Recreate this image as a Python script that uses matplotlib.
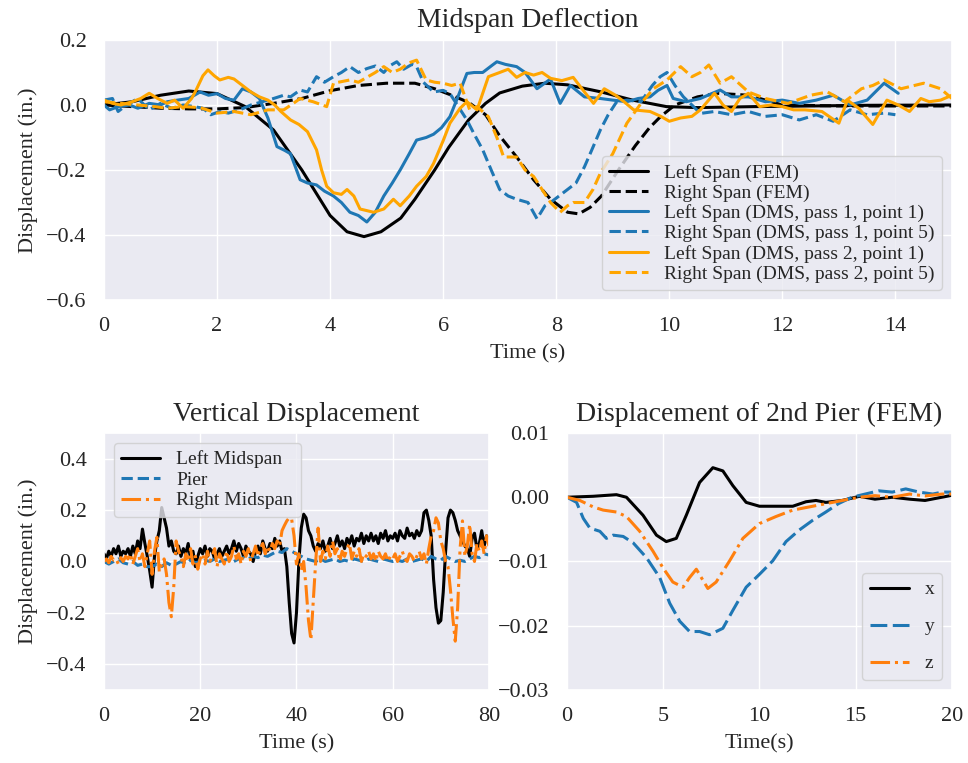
import matplotlib
matplotlib.use('Agg')
import matplotlib.pyplot as plt
import numpy as np
import seaborn as sns

sns.set_theme(style='darkgrid')
plt.rcParams['font.family'] = ['Liberation Serif', 'DejaVu Serif']
plt.rcParams.update({
    'axes.titlesize': 20,
    'axes.labelsize': 16,
    'xtick.labelsize': 16,
    'ytick.labelsize': 16,
    'legend.fontsize': 14,
    'xtick.major.pad': 6.5,
    'ytick.major.pad': 6.5,
    'axes.titlepad': 9,
    'axes.labelpad': 6,
})

# --- Midspan Deflection ---
t_fem_left = [0, 0.5, 1.0, 1.5, 2.0, 2.5, 3.0, 3.5, 4.0, 4.3, 4.6, 4.9, 5.25, 5.5, 5.85, 6.1,
              6.45, 6.75, 7.0, 7.4, 7.8, 8.2, 8.8, 9.35, 9.95, 10.5, 11.5, 12.5, 13.5, 15.0]
fem_left = [0.0, 0.01, 0.03, 0.043, 0.035, -0.005, -0.077, -0.2, -0.34, -0.39, -0.405, -0.39, -0.348,
            -0.29, -0.2, -0.13, -0.046, 0.005, 0.037, 0.058, 0.067, 0.062, 0.04, 0.015, -0.005,
            -0.008, -0.005, -0.003, -0.001, 0.0]

t_fem_right = [0, 0.5, 1.0, 1.5, 2.0, 2.5, 3.0, 3.5, 4.0, 4.5, 5.0, 5.5, 5.85, 6.15, 6.45, 6.75,
               7.0, 7.3, 7.6, 7.9, 8.2, 8.4, 8.6, 8.8, 9.1, 9.4, 9.65, 9.85, 10.1, 10.5, 10.85,
               11.4, 12.0, 13.0, 15.0]
fem_right = [0.0, -0.005, -0.01, -0.012, -0.012, -0.008, 0.005, 0.02, 0.044, 0.06, 0.067, 0.067,
             0.05, 0.03, 0.008, -0.03, -0.095, -0.16, -0.23, -0.29, -0.33, -0.335, -0.315, -0.28,
             -0.2, -0.125, -0.07, -0.035, 0.0, 0.025, 0.036, 0.03, 0.0, -0.003, -0.003]

t_dms1_left = [0, 0.1, 0.25, 0.45, 0.6, 0.8, 1.0, 1.12, 1.3, 1.5, 1.7, 1.85, 2.0, 2.15, 2.3, 2.45,
               2.6, 2.75, 2.9, 3.06, 3.2, 3.3, 3.47, 3.6, 3.76, 3.9, 4.06, 4.2, 4.35, 4.5, 4.65,
               4.8, 4.95, 5.1, 5.24, 5.4, 5.53, 5.7, 5.83, 5.97, 6.12, 6.25, 6.42, 6.55, 6.7,
               6.85, 6.95, 7.1, 7.3, 7.45, 7.66, 7.9, 8.07, 8.25, 8.5, 8.78, 9.0, 9.25, 9.45,
               9.66, 9.8, 9.96, 10.07, 10.3, 10.55, 10.75, 10.9, 11.1, 11.4, 11.7, 12.0, 12.3,
               12.6, 12.9, 13.2, 13.5, 13.8, 14.05]
dms1_left = [0.0, -0.015, -0.005, 0.0, -0.01, 0.005, 0.0, 0.01, 0.015, 0.02, 0.04, 0.03, 0.035,
             0.02, 0.015, 0.05, 0.04, 0.02, -0.04, -0.128, -0.14, -0.15, -0.23, -0.24, -0.246,
             -0.265, -0.28, -0.3, -0.33, -0.34, -0.36, -0.33, -0.28, -0.24, -0.2, -0.15, -0.108,
             -0.1, -0.09, -0.07, -0.036, 0.02, 0.097, 0.1, 0.1, 0.12, 0.133, 0.125, 0.118, 0.1,
             0.05, 0.08, 0.005, 0.06, 0.025, 0.02, 0.015, 0.01, 0.02, 0.025, 0.045, 0.06, 0.02,
             0.01, 0.02, 0.035, 0.046, 0.025, 0.025, 0.01, 0.015, 0.005, 0.015, 0.03, 0.0,
             0.015, 0.067, 0.036]

t_dms1_right = [0, 0.15, 0.25, 0.4, 0.6, 0.8, 1.0, 1.2, 1.4, 1.6, 1.75, 1.89, 2.05, 2.2, 2.4, 2.6,
                2.8, 3.0, 3.18, 3.3, 3.47, 3.6, 3.76, 3.9, 4.06, 4.2, 4.35, 4.5, 4.65, 4.8, 4.95,
                5.05, 5.18, 5.3, 5.45, 5.53, 5.65, 5.83, 6.0, 6.12, 6.25, 6.42, 6.55, 6.7, 6.85,
                7.0, 7.15, 7.3, 7.5, 7.66, 7.8, 7.9, 8.05, 8.2, 8.35, 8.5, 8.65, 8.78, 8.92, 9.07,
                9.25, 9.5, 9.7, 9.84, 9.96, 10.1, 10.25, 10.4, 10.55, 10.8, 11.1, 11.4, 11.7,
                12.0, 12.3, 12.6, 12.9, 13.2, 13.5, 13.8, 14.0]
dms1_right = [0.015, 0.02, -0.02, 0.0, 0.02, -0.015, 0.005, -0.01, 0.0, -0.005, -0.01, -0.03,
              -0.02, -0.025, -0.015, 0.0, 0.01, 0.02, 0.03, 0.025, 0.046, 0.04, 0.087, 0.07,
              0.087, 0.1, 0.118, 0.1, 0.112, 0.12, 0.1, 0.12, 0.133, 0.11, 0.125, 0.118, 0.07,
              0.04, 0.045, 0.035, 0.0, -0.046, -0.09, -0.138, -0.2, -0.26, -0.28, -0.29, -0.3,
              -0.35, -0.31, -0.3, -0.28, -0.26, -0.24, -0.19, -0.13, -0.077, -0.03, 0.01, 0.015,
              0.01, 0.06, 0.087, 0.1, 0.06, 0.025, 0.0, -0.026, -0.02, -0.03, -0.02, -0.035,
              -0.03, -0.046, -0.03, -0.05, -0.015, -0.03, -0.025, -0.03]

t_dms2_left = [0, 0.15, 0.3, 0.5, 0.65, 0.8, 0.95, 1.12, 1.25, 1.4, 1.55, 1.63, 1.75, 1.84, 1.95,
               2.05, 2.2, 2.3, 2.45, 2.6, 2.75, 2.9, 3.02, 3.13, 3.3, 3.45, 3.6, 3.76, 3.85, 3.94,
               4.06, 4.2, 4.3, 4.42, 4.53, 4.65, 4.77, 4.95, 5.12, 5.24, 5.4, 5.53, 5.7, 5.83,
               6.0, 6.12, 6.3, 6.42, 6.6, 6.8, 7.0, 7.15, 7.3, 7.45, 7.6, 7.75, 7.9, 8.1, 8.3,
               8.5, 8.66, 8.85, 9.05, 9.2, 9.37, 9.66, 9.85, 10.0, 10.2, 10.4, 10.55, 10.8,
               10.95, 11.1, 11.25, 11.4, 11.6, 11.8, 12.0, 12.2, 12.4, 12.7, 13.0, 13.15, 13.35,
               13.6, 13.85, 14.05, 14.25, 14.45, 14.6, 14.8, 15.0]
dms2_left = [0.015, 0.005, 0.0, 0.01, 0.02, 0.036, 0.02, 0.005, 0.015, -0.01, 0.02, 0.046, 0.09,
             0.108, 0.09, 0.077, 0.085, 0.08, 0.06, 0.04, 0.025, 0.015, 0.0, -0.02, -0.046,
             -0.06, -0.082, -0.138, -0.2, -0.25, -0.27, -0.275, -0.26, -0.28, -0.32, -0.325,
             -0.33, -0.32, -0.29, -0.31, -0.28, -0.25, -0.22, -0.18, -0.11, -0.056, -0.01, 0.01,
             -0.015, 0.087, 0.1, 0.11, 0.085, 0.1, 0.092, 0.1, 0.082, 0.075, 0.085, 0.04, 0.005,
             0.05, 0.03, 0.01, -0.015, -0.02, -0.035, -0.05, -0.04, -0.035, -0.015, 0.036, 0.0,
             -0.02, 0.02, 0.036, -0.005, 0.0, -0.005, -0.015, -0.015, -0.02, -0.056, 0.015,
             -0.01, -0.06, 0.015, 0.0, -0.02, 0.02, 0.01, 0.015, 0.03]

t_dms2_right = [0, 0.3, 0.6, 0.9, 1.12, 1.4, 1.7, 2.0, 2.3, 2.6, 2.9, 3.18, 3.35, 3.47, 3.7, 3.94,
                4.06, 4.35, 4.5, 4.65, 4.8, 4.95, 5.1, 5.24, 5.4, 5.53, 5.7, 5.85, 6.0, 6.15, 6.3,
                6.47, 6.6, 6.8, 6.95, 7.07, 7.3, 7.45, 7.6, 7.75, 7.9, 8.07, 8.2, 8.3, 8.5, 8.65,
                8.78, 9.0, 9.25, 9.5, 9.72, 9.96, 10.2, 10.4, 10.55, 10.7, 10.9, 11.1, 11.4, 11.7,
                12.1, 12.5, 12.8, 13.1, 13.4, 13.6, 13.8, 14.1, 14.5, 14.8, 15.0]
dms2_right = [0.01, 0.005, 0.0, -0.005, -0.01, -0.005, -0.008, -0.025, -0.02, -0.03, -0.015,
              -0.015, 0.005, 0.02, 0.01, -0.005, 0.067, 0.077, 0.07, 0.085, 0.1, 0.118, 0.1,
              0.11, 0.13, 0.138, 0.077, 0.07, 0.067, 0.06, 0.067, -0.015, -0.005, -0.036, -0.1,
              -0.16, -0.16, -0.2, -0.22, -0.26, -0.3, -0.33, -0.31, -0.3, -0.3, -0.26, -0.21,
              -0.15, -0.056, 0.005, 0.05, 0.077, 0.118, 0.087, 0.1, 0.123, 0.067, 0.087, 0.04,
              0.02, 0.005, 0.03, 0.04, 0.01, 0.05, 0.06, 0.077, 0.05, 0.067, 0.05, 0.02]

# --- Vertical Displacement (0.5 s samples, pier 1 s samples) ---
left_midspan = [
    0.03, 0.01, 0.04, 0.02, 0.05, 0.03, 0.06, 0.02, 0.04, 0.03, 0.05,
    0.02, 0.06, 0.03, 0.08, 0.05, 0.126, 0.07, 0.02, -0.035, -0.1,
    0.02, 0.08, 0.12, 0.21, 0.17, 0.13, 0.06, 0.08, 0.04, 0.03,
    0.06, 0.02, 0.05, 0.03, 0.07, 0.01, 0.04, -0.02, 0.02, 0.05,
    0.03, 0.06, 0.02, 0.05, 0.04, 0.01, 0.03, 0.05, 0.02, 0.04,
    0.06, 0.03, 0.05, 0.08, 0.04, 0.07, 0.05, 0.02, 0.06, 0.04,
    0.03, 0.0, 0.04, 0.06, 0.03, 0.08, 0.05, 0.04, 0.07, 0.05,
    0.09, 0.06, 0.08, 0.04, 0.05, -0.02, -0.16, -0.28, -0.317, -0.2,
    0.0, 0.13, 0.184, 0.17, 0.12, 0.1, 0.06, 0.04, 0.07, 0.05,
    0.08, 0.04, 0.06, 0.09, 0.05, 0.07, 0.1, 0.06, 0.08, 0.05,
    0.09, 0.07, 0.1, 0.06, 0.09, 0.08, 0.11, 0.07, 0.1, 0.08,
    0.11, 0.08, 0.1, 0.07, 0.11, 0.09, 0.12, 0.08, 0.1, 0.09,
    0.11, 0.08, 0.12, 0.1, 0.09, 0.13, 0.1, 0.11, 0.09, 0.12,
    0.1, 0.12, 0.19, 0.2, 0.16, 0.1, -0.07, -0.18, -0.24, -0.23,
    -0.12, 0.04, 0.17, 0.2, 0.19, 0.16, 0.12, 0.1, 0.08, 0.06,
    0.05, 0.02, 0.09, 0.11, 0.05, 0.07, 0.12, 0.06, 0.1, 0.09,
]
right_midspan = [
    0.0, 0.01, -0.005, 0.02, 0.005, 0.01, -0.01, 0.015, 0.0, 0.02, 0.01,
    0.03, -0.01, 0.02, 0.05, 0.0, 0.03, -0.02, 0.03, 0.08, -0.05,
    0.04, 0.094, -0.04, -0.01, 0.01, -0.05, -0.16, -0.215, -0.1, 0.08,
    0.04, 0.02, -0.02, 0.03, 0.0, 0.05, -0.01, 0.02, -0.03, 0.01,
    0.03, -0.01, 0.04, 0.0, 0.02, 0.05, -0.02, 0.03, 0.01, -0.01,
    0.04, 0.0, 0.02, 0.06, 0.01, 0.03, -0.01, 0.04, 0.02, 0.05,
    0.0, 0.03, 0.06, 0.02, 0.05, 0.07, 0.03, 0.06, 0.04, 0.07,
    0.05, 0.08, 0.06, 0.12, 0.14, 0.158, 0.17, 0.165, 0.1, -0.01,
    0.03, -0.035, 0.0, -0.1, -0.23, -0.305, -0.15, 0.0, 0.13, 0.0,
    0.04, 0.01, 0.06, 0.02, 0.08, 0.03, 0.05, 0.0, 0.04, 0.02,
    0.05, 0.07, 0.01, 0.04, 0.02, 0.05, 0.0, 0.03, 0.02, 0.04,
    0.01, 0.03, 0.0, 0.04, 0.02, 0.01, 0.03, 0.0, 0.02, 0.01,
    0.03, 0.0, 0.02, 0.04, 0.01, 0.0, 0.03, 0.02, 0.0, 0.02,
    0.04, 0.01, 0.03, -0.01, 0.05, 0.1, 0.12, 0.17, 0.15, 0.08,
    0.05, 0.0, -0.02, -0.11, -0.22, -0.31, -0.18, 0.05, 0.158, 0.02,
    0.06, 0.145, 0.03, 0.0, 0.07, 0.04, 0.08, 0.03, 0.1, 0.06,
]
pier = [
    0.0, -0.01, 0.0, 0.01, -0.005, -0.01, 0.0, -0.015, -0.01, -0.02, -0.02,
    -0.01, -0.02, -0.005, -0.015, -0.01, 0.0, -0.01, 0.005, -0.005, 0.0,
    0.005, 0.0, 0.01, 0.0, 0.005, 0.01, 0.0, 0.01, 0.015, 0.01,
    0.02, 0.015, 0.025, 0.02, 0.03, 0.04, 0.035, 0.05, 0.04, 0.03,
    0.02, 0.01, 0.005, 0.0, 0.01, 0.0, 0.005, 0.01, 0.0, 0.005,
    0.0, 0.01, 0.005, 0.0, 0.01, 0.005, 0.0, 0.01, 0.005, 0.0,
    0.005, 0.0, 0.01, 0.0, 0.005, 0.01, 0.0, 0.02, 0.01, 0.005,
    0.02, 0.01, 0.0, 0.005, 0.0, 0.01, 0.02, 0.015, 0.03, 0.025,
]
t_mid = np.linspace(0, 80, len(left_midspan))
t_pier = np.linspace(0, 80, len(pier))

# --- Displacement of 2nd Pier (FEM) ---
t_px = [0, 1.36, 2.57, 3.09, 3.95, 4.65, 5.16, 5.68, 6.2, 6.89, 7.58, 8.1, 8.62, 9.31, 10.0,
        10.86, 11.73, 12.42, 12.94, 13.45, 14.3, 15.2, 16.0, 16.9, 17.8, 18.6, 19.3, 20.0]
pier_x = [0, 0.00015, 0.0004, 0, -0.0028, -0.0059, -0.0069, -0.0064, -0.0028, 0.0023, 0.0046,
          0.0041, 0.0018, -0.0008, -0.0014, -0.0014, -0.0014, -0.0007, -0.0005, -0.0008,
          -0.0005, 0.00015, -0.0003, 0, -0.0003, -0.0005, -0.0001, 0.0003]
t_py = [0, 0.5, 0.85, 1.19, 1.71, 2.05, 2.4, 2.92, 3.44, 4.13, 4.82, 5.34, 5.86, 6.37, 6.89, 7.41,
        8.1, 8.62, 9.31, 10.0, 10.69, 11.38, 12.07, 12.76, 13.45, 14.1, 14.8, 15.5, 16.2,
        16.9, 17.6, 18.3, 19.0, 19.5, 20.0]
pier_y = [0, -0.0008, -0.0033, -0.0048, -0.0053, -0.0064, -0.0059, -0.0061, -0.0071, -0.0094,
          -0.0125, -0.0165, -0.0193, -0.0209, -0.0209, -0.0214, -0.0204, -0.0176, -0.014,
          -0.012, -0.0099, -0.0069, -0.0051, -0.0036, -0.0023, -0.001, 0.0, 0.0005, 0.001,
          0.0008, 0.0013, 0.0008, 0.0005, 0.0008, 0.0008]
t_pz = [0, 0.67, 1.36, 1.88, 2.57, 3.09, 3.78, 4.47, 4.99, 5.5, 6.03, 6.37, 6.72, 6.98, 7.32,
        7.75, 8.45, 9.14, 10.0, 10.86, 11.73, 12.6, 13.45, 14.3, 15.2, 16.0, 16.9, 17.8, 18.6,
        19.5, 20.0]
pier_z = [0, -0.0005, -0.0015, -0.002, -0.0023, -0.003, -0.0053, -0.0084, -0.011, -0.0132,
          -0.014, -0.0125, -0.0112, -0.0125, -0.0142, -0.0132, -0.0099, -0.0064, -0.0041,
          -0.003, -0.002, -0.0015, -0.001, -0.0005, 0.0, 0.00025, 0.0, 0.0005, 0.0002,
          0.0005, 0.0005]

fig = plt.figure(figsize=(9.68, 7.63), dpi=100)
ax1 = fig.add_axes([0.1074, 0.6068, 0.876, 0.3408])
ax2 = fig.add_axes([0.1074, 0.0957, 0.3977, 0.3368])
ax3 = fig.add_axes([0.5857, 0.0957, 0.3977, 0.3368])

lw = 2.2
ax1.plot(t_fem_left, fem_left, color='black', lw=lw, label='Left Span (FEM)')
ax1.plot(t_fem_right, fem_right, color='black', ls='--', lw=lw, label='Right Span (FEM)')
ax1.plot(t_dms1_left, dms1_left, color='tab:blue', lw=lw, label='Left Span (DMS, pass 1, point 1)')
ax1.plot(t_dms1_right, dms1_right, color='tab:blue', ls='--', lw=lw, label='Right Span (DMS, pass 1, point 5)')
ax1.plot(t_dms2_left, dms2_left, color='orange', lw=lw, label='Left Span (DMS, pass 2, point 1)')
ax1.plot(t_dms2_right, dms2_right, color='orange', ls='--', lw=lw, label='Right Span (DMS, pass 2, point 5)')
ax1.set_xlim(0, 15)
ax1.set_ylim(-0.6, 0.2)
ax1.set_yticks([-0.6, -0.4, -0.2, 0.0, 0.2])
ax1.set_title('Midspan Deflection')
ax1.set_xlabel('Time (s)')
ax1.set_ylabel('Displacement (in.)')
ax1.legend(loc='lower right', labelspacing=0.12)

ax2.plot(t_mid, left_midspan, color='black', lw=lw, label='Left Midspan')
ax2.plot(t_pier, pier, color='tab:blue', ls='--', lw=lw, label='Pier')
ax2.plot(t_mid, right_midspan, color='tab:orange', ls='-.', lw=lw, label='Right Midspan')
ax2.set_xlim(0, 80)
ax2.set_ylim(-0.5, 0.5)
ax2.set_yticks([-0.4, -0.2, 0.0, 0.2, 0.4])
ax2.set_title('Vertical Displacement')
ax2.set_xlabel('Time (s)')
ax2.set_ylabel('Displacement (in.)')
ax2.legend(loc='upper left', labelspacing=0.15)

ax3.plot(t_px, pier_x, color='black', lw=lw, label='x')
ax3.plot(t_py, pier_y, color='tab:blue', ls=(0, (5.5, 1.8)), lw=lw, label='y')
ax3.plot(t_pz, pier_z, color='tab:orange', ls='-.', lw=lw, label='z')
ax3.set_xlim(0, 20)
ax3.set_ylim(-0.03, 0.01)
ax3.set_yticks([-0.03, -0.02, -0.01, 0.0, 0.01])
ax3.set_title('Displacement of 2nd Pier (FEM)')
ax3.set_xlabel('Time(s)')
ax3.legend(loc='lower right', labelspacing=1.0)

fig.savefig('out.png', dpi=100)
